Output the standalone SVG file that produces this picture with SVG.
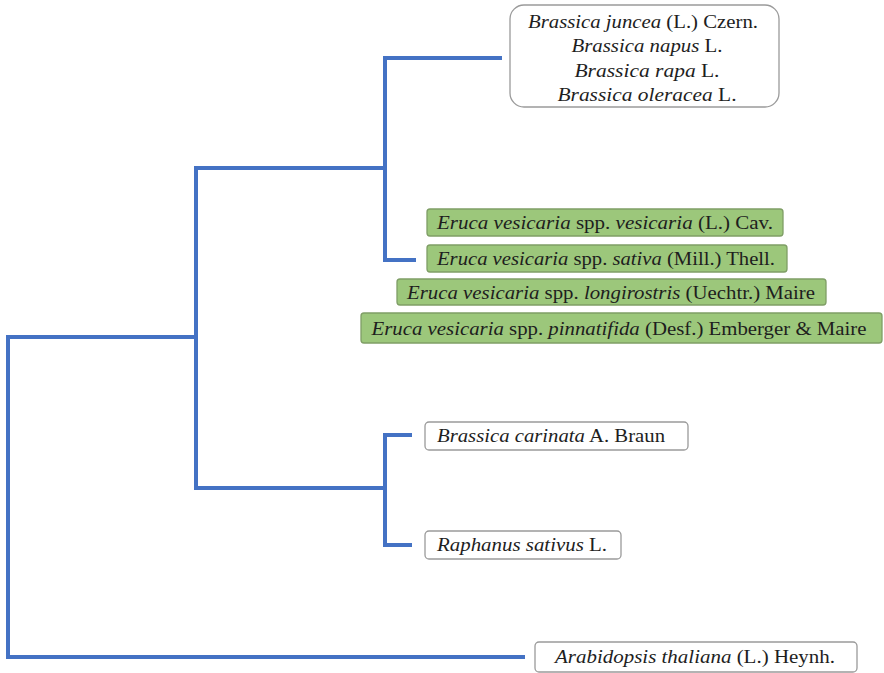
<svg xmlns="http://www.w3.org/2000/svg" width="884" height="673" viewBox="0 0 884 673">
<style>
text{font-family:'Liberation Serif','Times New Roman',serif;font-size:19px;fill:#1e1e1e}
.i{font-style:italic}
.c{text-anchor:middle}
.w{fill:#fff;stroke:#9a9a9a;stroke-width:1.3}
.g{fill:#9cc77b;stroke:#7f9e66;stroke-width:1.3}
.ln{fill:none;stroke:#4472c4;stroke-width:4;stroke-linejoin:miter;stroke-linecap:butt}
</style>
<rect width="884" height="673" fill="#fff"/>
<g id="connectors">
<path class="ln" d="M502,58 H385 V260 H416"/>
<path class="ln" d="M385,168 H196 V488 H385"/>
<path class="ln" d="M412,435 H385 V545 H412"/>
<path class="ln" d="M196,337 H8 V657 H525"/>
</g>
<g id="brassica_group">
<rect class="w" x="510" y="5" width="269" height="102" rx="14"/>
<text class="c" x="643" y="28" textLength="230" lengthAdjust="spacingAndGlyphs"><tspan class="i">Brassica juncea</tspan> (L.) Czern.</text>
<text class="c" x="647" y="52" textLength="151" lengthAdjust="spacingAndGlyphs"><tspan class="i">Brassica napus</tspan> L.</text>
<text class="c" x="647" y="77" textLength="145" lengthAdjust="spacingAndGlyphs"><tspan class="i">Brassica rapa</tspan> L.</text>
<text class="c" x="647" y="101" textLength="179" lengthAdjust="spacingAndGlyphs"><tspan class="i">Brassica oleracea</tspan> L.</text>
</g>
<g id="eruca_vesicaria">
<rect class="g" x="427" y="209" width="356" height="27" rx="3"/>
<text class="c" x="605" y="229" textLength="336" lengthAdjust="spacingAndGlyphs"><tspan class="i">Eruca vesicaria</tspan> spp. <tspan class="i">vesicaria</tspan> (L.) Cav.</text>
</g>
<g id="eruca_sativa">
<rect class="g" x="427" y="245" width="360" height="27" rx="3"/>
<text class="c" x="606" y="265" textLength="338" lengthAdjust="spacingAndGlyphs"><tspan class="i">Eruca vesicaria</tspan> spp. <tspan class="i">sativa</tspan> (Mill.)  Thell.</text>
</g>
<g id="eruca_longirostris">
<rect class="g" x="397" y="279" width="429" height="26" rx="3"/>
<text class="c" x="611" y="299" textLength="408" lengthAdjust="spacingAndGlyphs"><tspan class="i">Eruca vesicaria</tspan> spp. <tspan class="i">longirostris</tspan> (Uechtr.) Maire</text>
</g>
<g id="eruca_pinnatifida">
<rect class="g" x="361" y="313" width="521" height="30" rx="3"/>
<text class="c" x="619" y="335" textLength="495" lengthAdjust="spacingAndGlyphs"><tspan class="i">Eruca vesicaria</tspan> spp. <tspan class="i">pinnatifida</tspan> (Desf.) Emberger &amp; Maire</text>
</g>
<g id="brassica_carinata">
<rect class="w" x="425" y="422" width="263" height="28" rx="4"/>
<text x="437" y="442" textLength="228" lengthAdjust="spacingAndGlyphs"><tspan class="i">Brassica carinata</tspan> A. Braun</text>
</g>
<g id="raphanus_sativus">
<rect class="w" x="425" y="531" width="196" height="28" rx="4"/>
<text x="437" y="551" textLength="170" lengthAdjust="spacingAndGlyphs"><tspan class="i">Raphanus sativus</tspan> L.</text>
</g>
<g id="arabidopsis_thaliana">
<rect class="w" x="535" y="642" width="322" height="30" rx="4"/>
<text x="555" y="663" textLength="280" lengthAdjust="spacingAndGlyphs"><tspan class="i">Arabidopsis thaliana</tspan> (L.) Heynh.</text>
</g>
</svg>
